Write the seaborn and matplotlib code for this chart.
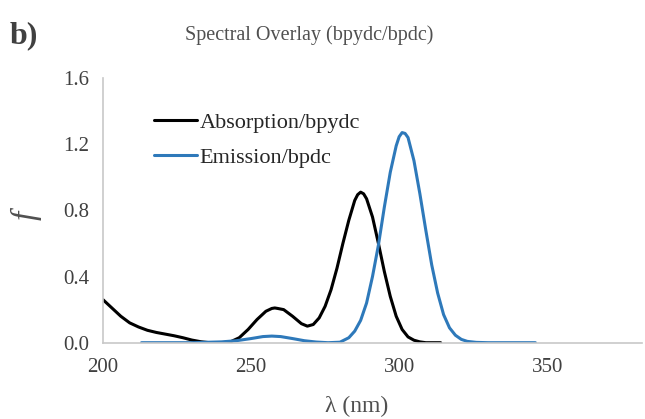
import numpy as np
import pandas as pd
import matplotlib
matplotlib.use("Agg")
import matplotlib.pyplot as plt
import seaborn as sns

# ---- data ----
abs_wl = [200, 203, 206, 209, 212, 215, 218, 221, 224, 227, 230, 233, 236, 240,
          243, 246, 249, 252, 255, 257, 258, 259, 261, 264, 267, 269, 271, 273,
          275, 277, 279, 281, 283, 285, 286, 287, 288, 289, 291, 293, 295, 297,
          299, 301, 303, 305, 307, 309, 311, 314]
abs_f = [0.26, 0.21, 0.16, 0.12, 0.095, 0.075, 0.062, 0.052, 0.042, 0.03, 0.016,
         0.006, 0.0, 0.0, 0.005, 0.03, 0.08, 0.14, 0.19, 0.207, 0.21, 0.207, 0.20,
         0.16, 0.115, 0.10, 0.11, 0.15, 0.22, 0.32, 0.45, 0.60, 0.74, 0.86, 0.895,
         0.91, 0.90, 0.87, 0.76, 0.60, 0.43, 0.28, 0.16, 0.08, 0.035, 0.015, 0.005,
         0.0, 0.0, 0.0]

em_wl = [213, 220, 230, 240, 245, 250, 254, 257, 260, 264, 268, 272, 276, 280,
         283, 285, 287, 289, 291, 293, 295, 297, 299, 300, 301, 302, 303, 305,
         307, 309, 311, 313, 315, 317, 319, 321, 323, 326, 330, 346]
em_f = [0.0, 0.0, 0.0, 0.005, 0.012, 0.025, 0.037, 0.04, 0.037, 0.025, 0.012,
        0.004, 0.0, 0.003, 0.03, 0.07, 0.135, 0.24, 0.40, 0.59, 0.82, 1.03, 1.19,
        1.245, 1.27, 1.265, 1.24, 1.10, 0.90, 0.68, 0.47, 0.30, 0.17, 0.09, 0.045,
        0.02, 0.008, 0.002, 0.0, 0.0]

series_names = ["Absorption/bpydc", "Emission/bpdc"]
series_colors = ["#000000", "#2E79BA"]
y_ticks = [0.0, 0.4, 0.8, 1.2, 1.6]
x_ticks = [200, 250, 300, 350]

df = pd.concat([
    pd.DataFrame({"wl": abs_wl, "f": abs_f, "series": series_names[0]}),
    pd.DataFrame({"wl": em_wl, "f": em_f, "series": series_names[1]}),
], ignore_index=True)

sns.set_theme(style="white")
plt.rcParams["font.family"] = ["Liberation Serif", "DejaVu Serif"]

fig = plt.figure(figsize=(6.45, 4.19), dpi=100)
ax = fig.add_axes([103 / 645, 1 - 342.7 / 419, 539 / 645, (342.7 - 78) / 419])

sns.lineplot(data=df, x="wl", y="f", hue="series", palette=series_colors,
             hue_order=series_names, sort=False, estimator=None, linewidth=2.2,
             ax=ax)

ax.set_xlim(200, 382)
ax.set_ylim(0, 1.6)
ax.set_xticks(x_ticks)
ax.set_yticks(y_ticks)
ax.set_yticklabels([f"{v:.1f}" for v in y_ticks])
ax.tick_params(axis="both", length=0, labelsize=15, labelcolor="#404040")
ax.tick_params(axis="y", pad=10)
ax.tick_params(axis="x", pad=11)

for s in ["top", "right"]:
    ax.spines[s].set_visible(False)
for s in ["left", "bottom"]:
    ax.spines[s].set_color("#c8c8c8")
    ax.spines[s].set_linewidth(1.2)

ax.set_xlabel("")
ax.set_ylabel("")
fig.text(357 / 645, 1 - 406 / 419, "λ (nm)", ha="center", va="center",
         fontsize=17, color="#505050")
fig.text(26 / 645, 1 - 215 / 419, "f", ha="center", va="center", rotation=90,
         fontsize=24, style="italic", color="#505050")

leg = ax.legend(loc="upper left", bbox_to_anchor=(0.078, 0.905), frameon=False,
                fontsize=16, handlelength=1.95, handletextpad=0.1,
                labelspacing=0.65, borderaxespad=0)
for line in leg.get_lines():
    line.set_linewidth(2.2)

fig.text(309 / 645, 1 - 35 / 419, "Spectral Overlay (bpydc/bpdc)", ha="center",
         va="center", fontsize=14.5, color="#505050")
fig.text(10 / 645, 1 - 36 / 419, "b)", ha="left", va="center", fontsize=23,
         fontweight="bold", color="#404040")

fig.savefig("out.png", dpi=100)
